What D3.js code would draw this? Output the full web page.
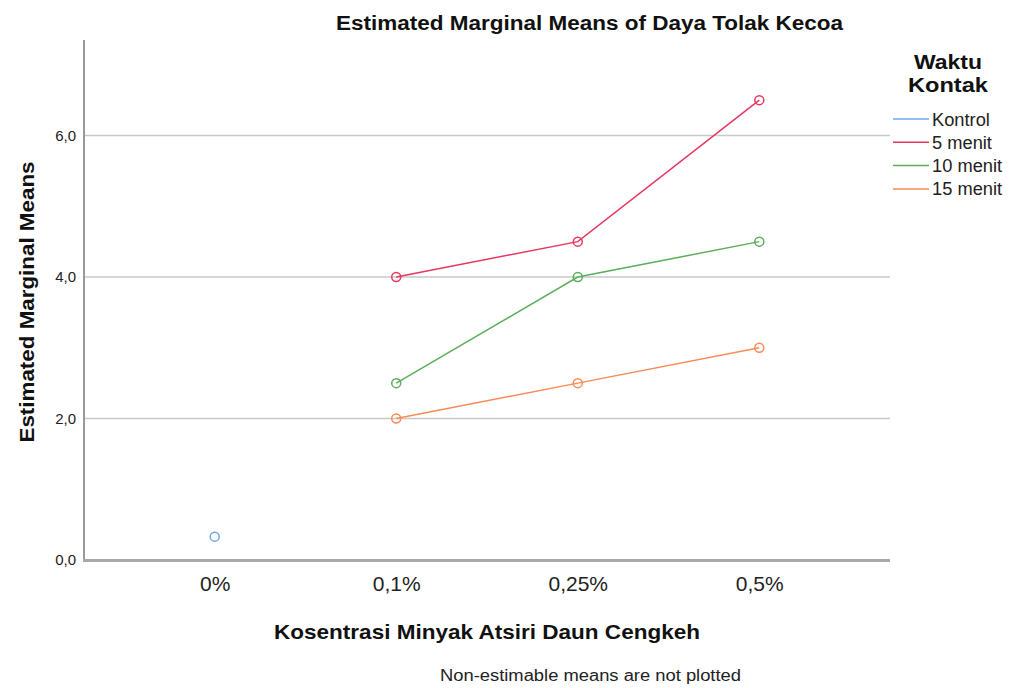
<!DOCTYPE html>
<html><head><meta charset="utf-8">
<script src="https://cdn.jsdelivr.net/npm/d3@7"></script>
<style>body{margin:0;background:#fff;}svg{display:block;font-family:"Liberation Sans",Arial,sans-serif;}</style>
</head><body>
<svg id="c" width="1011" height="688"></svg>
<script>
const categories = ["0%", "0,1%", "0,25%", "0,5%"];
const seriesNames = ["Kontrol", "5 menit", "10 menit", "15 menit"];
const kontrol = [0.33, null, null, null];
const menit5 = [null, 4.0, 4.5, 6.5];
const menit10 = [null, 2.5, 4.0, 4.5];
const menit15 = [null, 2.0, 2.5, 3.0];
const yTicks = [0, 2, 4, 6];
const colors = ["#72a6ef", "#e6385f", "#5cad5c", "#fa8b58"];
const seriesValues = [kontrol, menit5, menit10, menit15];

const svg = d3.select("#c");
const L = 84, R = 890, T = 40, B = 560;
const x = d3.scalePoint().domain(categories).range([L, R]).padding(0.72);
const y = d3.scaleLinear().domain([0, 7.35]).range([B, T]);

// gridlines
svg.append("g").selectAll("line").data(yTicks.filter(d => d > 0)).join("line")
  .attr("x1", L).attr("x2", R).attr("y1", d => y(d)).attr("y2", d => y(d))
  .attr("stroke", "#c8c8c8").attr("stroke-width", 1.5);

// y axis
const ya = svg.append("g").attr("transform", `translate(${L},0)`)
  .call(d3.axisLeft(y).tickValues(yTicks).tickFormat(d => d3.format(".1f")(d).replace(".", ",")).tickSize(0).tickPadding(8));
ya.select(".domain").remove();
ya.selectAll("text").attr("font-size", 15).attr("fill", "#222").attr("font-family", "Liberation Sans, Arial, sans-serif");
svg.append("line").attr("x1", L).attr("x2", L).attr("y1", T).attr("y2", B + 2)
  .attr("stroke", "#999").attr("stroke-width", 2);

// x axis
const xa = svg.append("g").attr("transform", `translate(0,${B})`)
  .call(d3.axisBottom(x).tickSize(0).tickPadding(16));
xa.select(".domain").remove();
xa.selectAll("text").attr("font-size", 21).attr("fill", "#222").attr("font-family", "Liberation Sans, Arial, sans-serif");
svg.append("line").attr("x1", L - 1).attr("x2", R).attr("y1", B + 0.5).attr("y2", B + 0.5)
  .attr("stroke", "#a8a8a8").attr("stroke-width", 3);

// series
seriesValues.forEach((vals, i) => {
  const pts = categories.map((c, j) => ({c, v: vals[j]})).filter(d => d.v !== null);
  const line = d3.line().x(d => x(d.c)).y(d => y(d.v));
  svg.append("path").datum(pts).attr("d", line).attr("fill", "none")
    .attr("stroke", colors[i]).attr("stroke-width", 1.5);
  svg.append("g").selectAll("circle").data(pts).join("circle")
    .attr("cx", d => x(d.c)).attr("cy", d => y(d.v)).attr("r", 4.5)
    .attr("fill", "none").attr("stroke", colors[i]).attr("stroke-width", 1.5);
});

// titles
svg.append("text").attr("x", 589.5).attr("y", 30).attr("text-anchor", "middle")
  .attr("font-size", 20).attr("font-weight", "bold").attr("fill", "#111")
  .attr("textLength", 507).attr("lengthAdjust", "spacingAndGlyphs")
  .text("Estimated Marginal Means of Daya Tolak Kecoa");
svg.append("text").attr("transform", "translate(34,302) rotate(-90)").attr("text-anchor", "middle")
  .attr("font-size", 21).attr("font-weight", "bold").attr("fill", "#111")
  .attr("textLength", 281).attr("lengthAdjust", "spacingAndGlyphs")
  .text("Estimated Marginal Means");
svg.append("text").attr("x", 487).attr("y", 639).attr("text-anchor", "middle")
  .attr("font-size", 21).attr("font-weight", "bold").attr("fill", "#111")
  .attr("textLength", 426).attr("lengthAdjust", "spacingAndGlyphs")
  .text("Kosentrasi Minyak Atsiri Daun Cengkeh");
svg.append("text").attr("x", 590.5).attr("y", 681).attr("text-anchor", "middle")
  .attr("font-size", 16).attr("fill", "#222")
  .attr("textLength", 301).attr("lengthAdjust", "spacingAndGlyphs")
  .text("Non-estimable means are not plotted");

// legend
svg.append("text").attr("x", 948).attr("y", 69).attr("text-anchor", "middle")
  .attr("font-size", 21).attr("font-weight", "bold").attr("fill", "#111")
  .attr("textLength", 68).attr("lengthAdjust", "spacingAndGlyphs").text("Waktu");
svg.append("text").attr("x", 948).attr("y", 92).attr("text-anchor", "middle")
  .attr("font-size", 21).attr("font-weight", "bold").attr("fill", "#111")
  .attr("textLength", 80).attr("lengthAdjust", "spacingAndGlyphs").text("Kontak");
const lg = svg.append("g").selectAll("g").data(seriesNames).join("g")
  .attr("transform", (d, i) => `translate(893,${119 + i * 23.3})`);
lg.append("line").attr("x1", 0).attr("x2", 36).attr("y1", 0).attr("y2", 0)
  .attr("stroke", (d, i) => colors[i]).attr("stroke-width", 1.5);
lg.append("text").attr("x", 39).attr("y", 6.5).attr("font-size", 18.3).attr("fill", "#222").text(d => d);
</script>
</body></html>
